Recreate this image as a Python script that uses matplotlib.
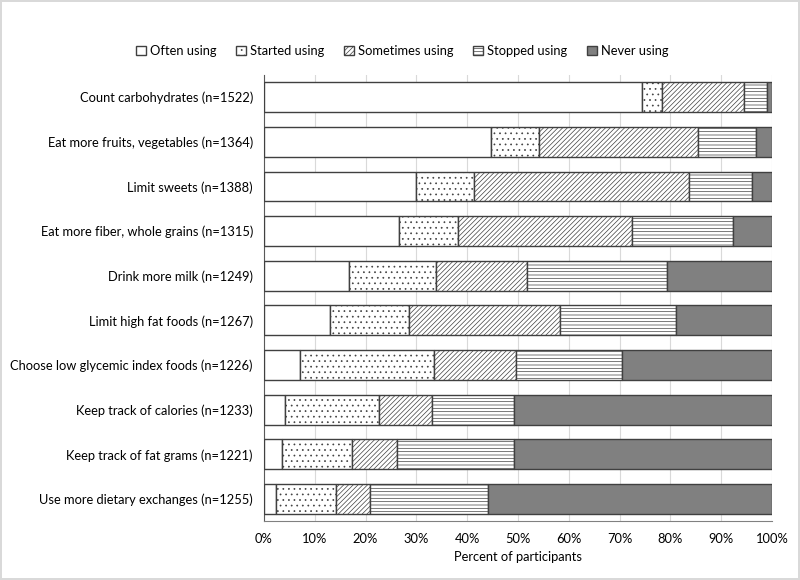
import matplotlib
matplotlib.use("Agg")
import matplotlib.pyplot as plt
import numpy as np

categories = [
    "Count carbohydrates (n=1522)",
    "Eat more fruits, vegetables (n=1364)",
    "Limit sweets (n=1388)",
    "Eat more fiber, whole grains (n=1315)",
    "Drink more milk (n=1249)",
    "Limit high fat foods (n=1267)",
    "Choose low glycemic index foods (n=1226)",
    "Keep track of calories (n=1233)",
    "Keep track of fat grams (n=1221)",
    "Use more dietary exchanges (n=1255)",
]
series_names = ["Often using", "Started using", "Sometimes using", "Stopped using", "Never using"]
often     = [74.5, 44.7, 29.9, 26.6, 16.8, 12.9, 7.1, 4.2, 3.5, 2.4]
started   = [3.8, 9.4, 11.5, 11.5, 17.1, 15.7, 26.3, 18.5, 13.9, 11.7]
sometimes = [16.1, 31.4, 42.3, 34.4, 17.9, 29.7, 16.3, 10.4, 8.8, 6.8]
stopped   = [4.6, 11.3, 12.4, 19.8, 27.5, 22.9, 20.7, 16.2, 23.1, 23.1]
never     = [1.0, 3.2, 3.9, 7.7, 20.7, 18.8, 29.6, 50.7, 50.7, 56.0]
xticks = [0, 10, 20, 30, 40, 50, 60, 70, 80, 90, 100]

plt.rcParams['font.family'] = ['Lato', 'DejaVu Sans']
plt.rcParams['hatch.linewidth'] = 0.5
FS = 9.3

fig = plt.figure(figsize=(8, 5.8), dpi=100)
fig.patch.set_edgecolor('#d9d9d9')
fig.patch.set_linewidth(1.5)
ax = fig.add_axes([0.33, 0.101, 0.635, 0.770])

styles = [
    dict(color='white', hatch=None),
    dict(color='white', hatch='...'),
    dict(color='white', hatch='///////'),
    dict(color='white', hatch='-----'),
    dict(color='#808080', hatch=None),
]
data = [often, started, sometimes, stopped, never]
y = np.arange(len(categories))
left = np.zeros(len(categories))
handles = []
for name, vals, st in zip(series_names, data, styles):
    vals = np.array(vals)
    b = ax.barh(y, vals, left=left, height=0.67, color=st['color'],
                edgecolor='#404040', linewidth=1.0, hatch=st['hatch'], label=name, zorder=3)
    handles.append(b)
    left = left + vals

ax.set_xlim(0, 100)
ax.set_ylim(len(categories) - 0.5, -0.5)
ax.set_yticks(y)
ax.set_yticklabels(categories, fontsize=FS)
ax.set_xticks(xticks)
ax.set_xticklabels([f"{t}%" for t in xticks], fontsize=FS)
ax.tick_params(length=0, pad=8)
ax.tick_params(axis='y', pad=8)
ax.set_xlabel("Percent of participants", fontsize=FS, labelpad=5)
ax.grid(axis='x', color='#d9d9d9', linewidth=0.8, zorder=0)
ax.set_axisbelow(True)
for s in ['top', 'right']:
    ax.spines[s].set_visible(False)
ax.spines['left'].set_color('#595959')
ax.spines['bottom'].set_color('#808080')

fig.legend(handles, series_names, loc='center', bbox_to_anchor=(0.503, 0.912), ncol=5,
           frameon=False, fontsize=FS, handlelength=0.75, handleheight=0.75,
           handletextpad=0.35, columnspacing=1.5)

fig.savefig("out.png", dpi=100, edgecolor=fig.get_edgecolor())
